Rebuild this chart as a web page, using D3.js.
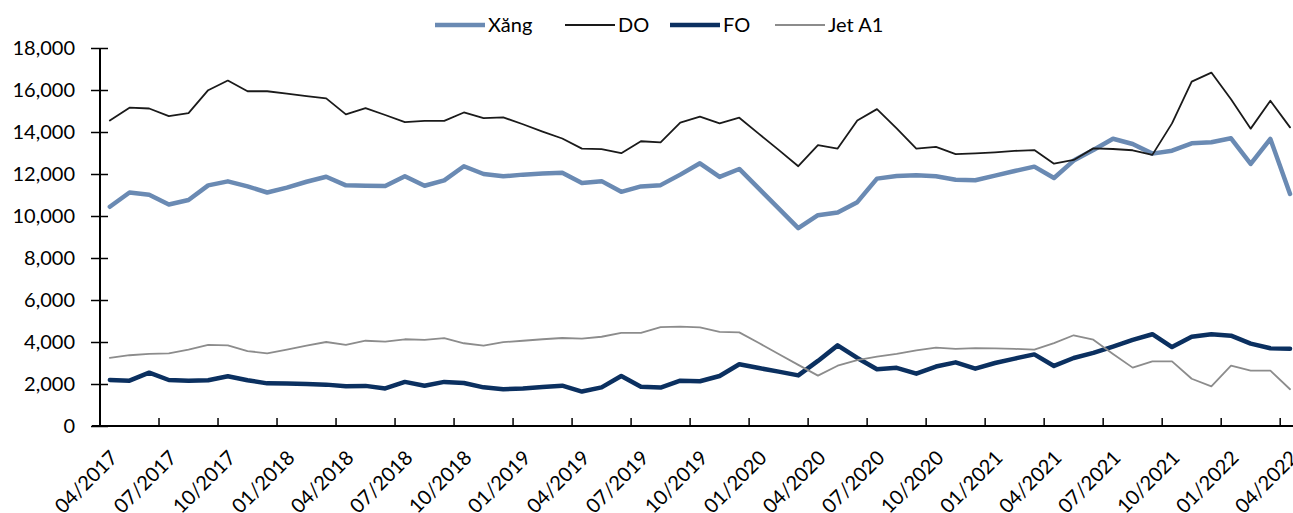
<!DOCTYPE html>
<html>
<head>
<meta charset="utf-8">
<script src="https://cdn.jsdelivr.net/npm/d3@7"></script>
<style>
  html, body { margin: 0; padding: 0; background: #ffffff; }
  svg { display: block; font-family: Lato, "Noto Sans", sans-serif; }
</style>
</head>
<body>
<svg id="chart" width="1293" height="513"></svg>
<script>
// Monthly categories, 04/2017 – 04/2022
const months = [
  "04/2017","05/2017","06/2017","07/2017","08/2017","09/2017","10/2017","11/2017","12/2017",
  "01/2018","02/2018","03/2018","04/2018","05/2018","06/2018","07/2018","08/2018","09/2018","10/2018","11/2018","12/2018",
  "01/2019","02/2019","03/2019","04/2019","05/2019","06/2019","07/2019","08/2019","09/2019","10/2019","11/2019","12/2019",
  "01/2020","02/2020","03/2020","04/2020","05/2020","06/2020","07/2020","08/2020","09/2020","10/2020","11/2020","12/2020",
  "01/2021","02/2021","03/2021","04/2021","05/2021","06/2021","07/2021","08/2021","09/2021","10/2021","11/2021","12/2021",
  "01/2022","02/2022","03/2022","04/2022"
];

// Series values
const xang = [
  10440,11120,11010,10550,10760,11460,11650,11410,11120,11350,11630,11870,11460,11440,11430,11890,
  11440,11700,12370,12000,11890,11970,12020,12060,11570,11660,11150,11410,11470,11970,12510,11860,
  12240,11300,10360,9420,10040,10170,10660,11780,11900,11940,11890,11730,11700,11920,12140,12350,
  11810,12640,13140,13680,13430,12970,13110,13460,13510,13700,12480,13670,11050
];
const dO = [
  14550,15160,15120,14760,14900,15990,16450,15940,15940,15830,15710,15600,14840,15140,14810,14470,
  14530,14530,14930,14660,14700,14370,14020,13690,13210,13180,12990,13560,13510,14450,14730,14410,
  14680,13910,13150,12370,13370,13210,14550,15090,14170,13210,13290,12950,12980,13030,13100,13140,
  12490,12670,13220,13190,13130,12910,14410,16400,16830,15560,14160,15490,14220
];
const fo = [
  2190,2160,2540,2190,2160,2180,2370,2180,2030,2020,2000,1970,1890,1910,1790,2100,
  1920,2100,2050,1840,1750,1790,1860,1920,1640,1840,2380,1870,1830,2160,2130,2380,
  2940,2760,2590,2410,3100,3840,3240,2700,2770,2490,2830,3030,2730,3000,3210,3410,
  2860,3240,3480,3780,4100,4370,3760,4250,4370,4300,3920,3700,3680
];
const jetA1 = [
  3240,3370,3430,3460,3640,3860,3840,3570,3460,3640,3830,4000,3860,4060,4020,4130,
  4100,4180,3940,3830,3990,4060,4130,4190,4160,4250,4430,4430,4710,4730,4700,4480,
  4460,3950,3430,2910,2400,2870,3140,3300,3430,3600,3730,3670,3710,3700,3670,3640,
  3950,4320,4110,3430,2780,3080,3080,2250,1890,2870,2640,2640,1750
];

const yTicks = [0,2000,4000,6000,8000,10000,12000,14000,16000,18000];
const seriesNames = ["Xăng", "DO", "FO", "Jet A1"];

const series = [
  { name: seriesNames[0], values: xang,  color: "#6a8ab3", width: 4.5 },
  { name: seriesNames[1], values: dO,    color: "#1a1a1a", width: 1.8 },
  { name: seriesNames[2], values: fo,    color: "#0b3060", width: 4.5 },
  { name: seriesNames[3], values: jetA1, color: "#8c8c8c", width: 1.8 }
];

const svg = d3.select("#chart");
const plotLeft = 100, plotTop = 48, plotBottom = 426;
const bandW = 19.67;
const plotRight = plotLeft + bandW * months.length;

const x = d3.scaleBand().domain(months).range([plotLeft, plotRight]).paddingInner(0).paddingOuter(0);
const cx = m => x(m) + x.bandwidth() / 2;
const y = d3.scaleLinear().domain([0, 18000]).range([plotBottom, plotTop]);

// Y axis with ticks crossing the axis line
const yAxis = d3.axisLeft(y).tickValues(yTicks).tickSize(9).tickPadding(16)
  .tickFormat(d3.format(","));
const gy = svg.append("g").attr("transform", `translate(${plotLeft},0)`).call(yAxis);
gy.select(".domain").remove();
gy.selectAll(".tick line").attr("x1", 8).attr("stroke", "#000").attr("stroke-width", 1.5);
gy.selectAll(".tick text").attr("font-size", 20).attr("fill", "#000")
  .attr("font-family", "Lato, 'Noto Sans', sans-serif");
svg.append("line")
  .attr("x1", plotLeft).attr("x2", plotLeft)
  .attr("y1", plotTop).attr("y2", plotBottom)
  .attr("stroke", "#000").attr("stroke-width", 2);

// X axis: line, tick marks at every third category boundary, rotated labels
svg.append("line")
  .attr("x1", plotLeft - 8).attr("x2", plotRight)
  .attr("y1", plotBottom).attr("y2", plotBottom)
  .attr("stroke", "#000").attr("stroke-width", 2);

const boundaryCats = months.filter((m, i) => i % 3 === 0);
svg.append("g").selectAll("line")
  .data(boundaryCats)
  .join("line")
  .attr("x1", d => x(d)).attr("x2", d => x(d))
  .attr("y1", plotBottom).attr("y2", plotBottom - 8)
  .attr("stroke", "#000").attr("stroke-width", 1.5);

svg.append("g").selectAll("text")
  .data(boundaryCats)
  .join("text")
  .attr("transform", d => `translate(${cx(d) + 9},${plotBottom + 33}) rotate(-45)`)
  .attr("text-anchor", "end")
  .attr("font-size", 20)
  .attr("fill", "#000")
  .text(d => d);

// Series lines
const line = d3.line()
  .x((d, i) => cx(months[i]))
  .y(d => y(d));

svg.append("g").selectAll("path")
  .data(series)
  .join("path")
  .attr("d", s => line(s.values))
  .attr("fill", "none")
  .attr("stroke", s => s.color)
  .attr("stroke-width", s => s.width)
  .attr("stroke-linejoin", "round")
  .attr("stroke-linecap", "round");

// Legend
const legendX = [435, 565, 670, 775];
const legend = svg.append("g").selectAll("g")
  .data(series)
  .join("g")
  .attr("transform", (s, i) => `translate(${legendX[i]},25)`);
legend.append("line")
  .attr("x1", 0).attr("x2", 50).attr("y1", 0).attr("y2", 0)
  .attr("stroke", s => s.color)
  .attr("stroke-width", s => s.width);
legend.append("text")
  .attr("x", 53).attr("y", 0)
  .attr("dy", "0.35em")
  .attr("font-size", 20)
  .attr("fill", "#000")
  .text(s => s.name);
</script>
</body>
</html>
